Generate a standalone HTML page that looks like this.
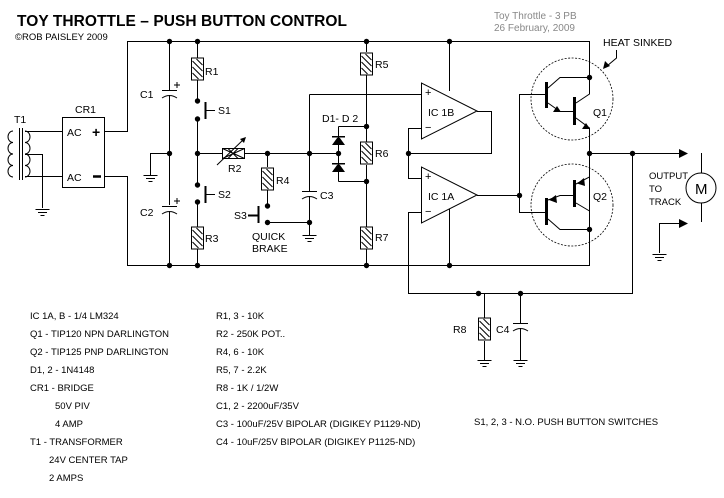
<!DOCTYPE html>
<html><head><meta charset="utf-8"><style>
html,body{margin:0;padding:0;background:#fff;}
svg{display:block;}
text{font-family:"Liberation Sans",sans-serif;font-size:10.5px;fill:#000;}
.b text{font-size:9.5px;}
</style></head><body>
<svg width="724" height="498" viewBox="0 0 724 498" xmlns="http://www.w3.org/2000/svg">
<defs>
<g id="res"><rect x="-6" y="0" width="12" height="22" fill="#fff" stroke="#000"/><path d="M-5,3 L5,13 M-5,9 L5,19 M-1,1 L5,7 M-5,15 L1,21" stroke="#000" fill="none"/></g>
<g id="gnd"><path d="M-7,0 H7 M-4.5,3 H4.5 M-2,6 H2" stroke="#000"/></g>
</defs>
<g stroke="#000" fill="none" stroke-width="1">
<path d="M127,41.5 H589.5 M127,265.5 H589.5"/>
<path d="M105,131.5 H127.5 V41 M105,176.5 H127.5 V266"/>
<rect x="62.5" y="117.5" width="42" height="70"/>
<path d="M13,131 a5,5.75 0 0 0 0,11.5 a5,5.75 0 0 0 0,11.5 a5,5.75 0 0 0 0,11.5 a5,5.75 0 0 0 0,11.5"/>
<path d="M19.5,128 V180 M22.5,128 V180" />
<path d="M25,131 a5,5.75 0 0 1 0,11.5 a5,5.75 0 0 1 0,11.5 a5,5.75 0 0 1 0,11.5 a5,5.75 0 0 1 0,11.5"/>
<path d="M25,131.5 H62 M25,176.5 H62 M25,154.5 H42.5 V208"/>
<path d="M169.5,41 V90 M162,90.5 H177 M162,98 Q169.5,93 177,98 M169.5,95 V205 M162,206.5 H177 M162,214 Q169.5,209 177,214 M169.5,211 V265"/>
<path d="M169.5,153.5 H150.5 V175"/>
<path d="M174,85 H180 M177,82 V88 M174,201 H180 M177,198 V204"/>
<path d="M197.5,41 V58 M197.5,80 V101 M197.5,119 V185 M197.5,202 V227 M197.5,249 V265"/>
<path d="M205.5,102 V119 M205.5,186 V203" stroke-width="2"/>
<path d="M205,110.5 H215 M205,194.5 H215"/>
<path d="M197.5,153.5 H222 M245,153.5 H309"/>
<rect x="222.5" y="148.5" width="22" height="10" fill="#fff"/>
<path d="M222.5,148.5 L244.5,158.5 M222.5,158.5 L244.5,148.5 M228,148.5 L238,158.5 M228,158.5 L238,148.5"/>
<path d="M217,165 L244,139"/>
<path d="M267.5,153 V167 M267.5,190 V206 M267.5,222.5 H309.5"/>
<path d="M258.5,206 V223 M248,215.5 H258" stroke-width="2"/>
<path d="M309.5,94.5 V191 M302,191.5 H317 M302,199 Q309.5,194 317,199 M309.5,196 V235"/>
<path d="M309.5,94.5 H421"/>
<path d="M338.5,126.5 H366 M338.5,126.5 V172 M338.5,181.5 H366 M338.5,172 V181.5 M309,153.5 H338"/>
<path d="M366.5,41 V52 M366.5,75 V142 M366.5,165 V227 M366.5,249 V265"/>
<path d="M421.5,83 V139 L477,111 Z" fill="#fff"/>
<path d="M477,111.5 H491.5 V153.5 H408.5 V128.5 H421 M408.5,153 V178.5 H421"/>
<path d="M449.5,41 V91"/>
<path d="M421.5,167 V223 L477,195 Z" fill="#fff"/>
<path d="M477,195.5 H519.5 M421,212.5 H408.5 V293.5 H632.5 V153"/>
<path d="M449.5,209 V265"/>
<path d="M547,94.5 H519.5 V212.5 H547"/>
<path d="M546.5,82 V108 M574.5,97 V125" stroke-width="3"/>
<path d="M548,88 L560,77.5 H589.5 M548,103 L560,111.5 H574 M576,103 L589.5,94 V41 M576,118 L589.5,128 V266"/>
<path d="M546.5,198 V225 M574.5,180 V207" stroke-width="3"/>
<path d="M589.5,153 V177 L576,184 M576,203 L589.5,211 M574,195.5 H560 L548,200 M548,219 L560,229.5 H589.5"/>
<circle cx="572" cy="99" r="41" stroke-dasharray="2,1.5" stroke-width="0.8"/>
<circle cx="572" cy="205" r="41" stroke-dasharray="2,1.5" stroke-width="0.8"/>
<path d="M589.5,153.5 H680 M659.5,223.5 H680 M659.5,223 V253 M701.5,153 V173 M701.5,203 V222"/>
<circle cx="701" cy="188" r="15"/>
<path d="M616.5,50 V58 L607,66"/>
<path d="M484.5,293 V318 M484.5,341 V360 M520.5,293 V323 M513,323.5 H528 M513,331 Q520.5,326 528,331 M520.5,328 V360"/>
</g>
<use href="#res" x="197.5" y="58"/>
<use href="#res" x="197.5" y="227"/>
<use href="#res" x="267.5" y="168"/>
<use href="#res" x="366.5" y="53"/>
<use href="#res" x="366.5" y="142"/>
<use href="#res" x="366.5" y="227"/>
<use href="#res" x="484.5" y="318"/>
<use href="#gnd" x="42.5" y="209.5"/>
<use href="#gnd" x="150.5" y="175.5"/>
<use href="#gnd" x="309.5" y="235.5"/>
<use href="#gnd" x="659.5" y="254.5"/>
<use href="#gnd" x="484.5" y="360.5"/>
<use href="#gnd" x="520.5" y="360.5"/>
<g fill="#000">
<path d="M332,145 L345,145 L338.5,136 Z M332,136 H345 V137.5 H332 Z"/>
<path d="M332,172 L345,172 L338.5,163 Z M332,163 H345 V164.5 H332 Z"/>
<path d="M246,137 L240,139 L244,143 Z"/>
<path d="M561,112 L553,112 L557,106 Z"/>
<path d="M590,129 L582,129 L586,123 Z"/>
<path d="M577,183.5 L584,178 L585,186 Z"/>
<path d="M549,200 L556,195 L557,203 Z"/>
<path d="M688,153.5 L679,149 L679,158 Z M688,223.5 L679,219 L679,228 Z"/>
<path d="M603,69 L605,61 L610,66 Z"/>
<g>
<circle cx="169.5" cy="41.5" r="2.7"/><circle cx="197.5" cy="41.5" r="2.7"/><circle cx="366.5" cy="41.5" r="2.7"/><circle cx="449.5" cy="41.5" r="2.7"/>
<circle cx="169.5" cy="265.5" r="2.7"/><circle cx="197.5" cy="265.5" r="2.7"/><circle cx="366.5" cy="265.5" r="2.7"/><circle cx="449.5" cy="265.5" r="2.7"/>
<circle cx="197.5" cy="101" r="2.7"/><circle cx="197.5" cy="119" r="2.7"/><circle cx="197.5" cy="185" r="2.7"/><circle cx="197.5" cy="202" r="2.7"/>
<circle cx="169.5" cy="153.5" r="2.7"/><circle cx="197.5" cy="153.5" r="2.7"/><circle cx="267.5" cy="153.5" r="2.7"/><circle cx="309.5" cy="153.5" r="2.7"/>
<circle cx="267.5" cy="206" r="2.7"/><circle cx="267.5" cy="222.5" r="2.7"/><circle cx="309.5" cy="222.5" r="2.7"/>
<circle cx="338.5" cy="153.5" r="2.7"/><circle cx="366.5" cy="126.5" r="2.7"/><circle cx="366.5" cy="181.5" r="2.7"/>
<circle cx="408.5" cy="153.5" r="2.7"/><circle cx="519.5" cy="195.5" r="2.7"/>
<circle cx="589.5" cy="77.5" r="2.7"/><circle cx="589.5" cy="153.5" r="2.7"/><circle cx="589.5" cy="229.5" r="2.7"/><circle cx="632.5" cy="153.5" r="2.7"/>
<circle cx="478.5" cy="293.5" r="2.7"/><circle cx="520.5" cy="293.5" r="2.7"/>
</g>
</g>
<text x="17" y="26" style="font-size:15.5px;font-weight:bold" textLength="330" lengthAdjust="spacing">TOY THROTTLE  –  PUSH BUTTON CONTROL</text>
<text x="15" y="40" style="font-size:9.5px">©ROB PAISLEY 2009</text>
<text x="494" y="19" style="fill:#888;font-size:10px">Toy Throttle - 3 PB</text>
<text x="494" y="31" style="fill:#888;font-size:10px">26 February, 2009</text>
<text x="75" y="113">CR1</text>
<text x="14" y="123">T1</text>
<text x="67" y="136">AC</text>
<text x="67" y="181">AC</text>
<text x="92" y="137" style="font-size:14px;font-weight:bold">+</text>
<path d="M93,176.5 H101" stroke="#000" stroke-width="2.5"/>
<text x="140" y="98">C1</text>
<text x="140" y="216">C2</text>
<text x="205" y="75">R1</text>
<text x="218" y="114">S1</text>
<text x="218" y="198">S2</text>
<text x="205" y="242">R3</text>
<text x="228" y="172">R2</text>
<text x="276" y="184">R4</text>
<text x="234" y="219">S3</text>
<text x="252" y="240">QUICK</text>
<text x="252" y="252">BRAKE</text>
<text x="320" y="199">C3</text>
<text x="322" y="122">D1- D 2</text>
<text x="375" y="68">R5</text>
<text x="375" y="157">R6</text>
<text x="375" y="241">R7</text>
<text x="425" y="96" style="font-size:11px">+</text>
<text x="425" y="131" style="font-size:11px">−</text>
<text x="428" y="116">IC 1B</text>
<text x="425" y="180" style="font-size:11px">+</text>
<text x="425" y="215" style="font-size:11px">−</text>
<text x="428" y="200">IC 1A</text>
<text x="593" y="116">Q1</text>
<text x="593" y="200">Q2</text>
<text x="603" y="46">HEAT SINKED</text>
<text x="649" y="179" style="font-size:9.5px">OUTPUT</text>
<text x="649" y="192" style="font-size:9.5px">TO</text>
<text x="649" y="205" style="font-size:9.5px">TRACK</text>
<text x="695" y="194" style="font-size:15px">M</text>
<text x="453" y="333">R8</text>
<text x="496" y="333">C4</text>
<g class="b">
<text x="30" y="319">IC 1A, B - 1/4  LM324</text>
<text x="30" y="337">Q1 - TIP120  NPN DARLINGTON</text>
<text x="30" y="355">Q2 - TIP125  PNP DARLINGTON</text>
<text x="30" y="373">D1, 2 - 1N4148</text>
<text x="30" y="391">CR1 - BRIDGE</text>
<text x="55" y="409">50V PIV</text>
<text x="55" y="427">4 AMP</text>
<text x="30" y="445">T1 - TRANSFORMER</text>
<text x="49" y="463">24V CENTER TAP</text>
<text x="49" y="481">2 AMPS</text>
<text x="216" y="319">R1, 3 - 10K</text>
<text x="216" y="337">R2 - 250K POT..</text>
<text x="216" y="355">R4, 6 - 10K</text>
<text x="216" y="373">R5, 7 - 2.2K</text>
<text x="216" y="391">R8 - 1K / 1/2W</text>
<text x="216" y="409">C1, 2 - 2200uF/35V</text>
<text x="216" y="427">C3 - 100uF/25V BIPOLAR  (DIGIKEY P1129-ND)</text>
<text x="216" y="445">C4 - 10uF/25V BIPOLAR  (DIGIKEY P1125-ND)</text>
<text x="474" y="425">S1, 2, 3 - N.O. PUSH BUTTON SWITCHES</text>
</g>
</svg>
</body></html>
